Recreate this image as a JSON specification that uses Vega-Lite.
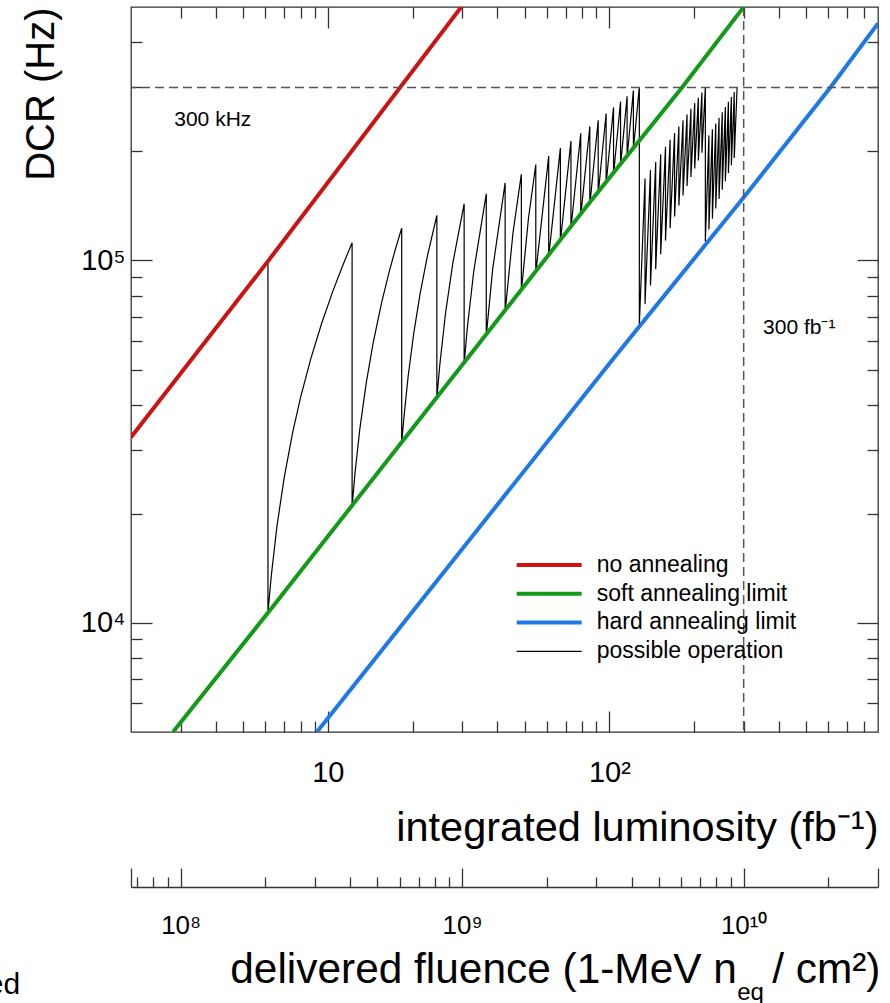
{
  "$schema": "https://vega.github.io/schema/vega-lite/v6.json",
  "width": 747,
  "height": 725,
  "autosize": {"type": "none"},
  "padding": {"left": 131, "top": 7, "right": 12, "bottom": 271},
  "background": "white",
  "config": {
    "font": "Liberation Sans",
    "view": {"stroke": "#333", "strokeWidth": 1.3},
    "axis": {"domain": false, "grid": false, "tickColor": "#333", "tickWidth": 1.3, "labelColor": "#000", "titleColor": "#000", "labelFont": "Liberation Sans", "titleFont": "Liberation Sans", "titleFontWeight": "normal", "labelOverlap": false, "labelFlush": false}
  },
  "datasets": {
    "lines": [
      {"s": "possible operation", "i": 0, "L": 2, "D": 32500},
      {"s": "possible operation", "i": 1, "L": 6.13, "D": 100000},
      {"s": "possible operation", "i": 2, "L": 6.13, "D": 10664},
      {"s": "possible operation", "i": 3, "L": 6.3, "D": 13500},
      {"s": "possible operation", "i": 4, "L": 6.6, "D": 18500},
      {"s": "possible operation", "i": 5, "L": 7, "D": 25170},
      {"s": "possible operation", "i": 6, "L": 7.5, "D": 33500},
      {"s": "possible operation", "i": 7, "L": 8, "D": 41840},
      {"s": "possible operation", "i": 8, "L": 8.7, "D": 53510},
      {"s": "possible operation", "i": 9, "L": 9.5, "D": 66840},
      {"s": "possible operation", "i": 10, "L": 10.4, "D": 81850},
      {"s": "possible operation", "i": 11, "L": 11.3, "D": 96850},
      {"s": "possible operation", "i": 12, "L": 12.2, "D": 111850},
      {"s": "possible operation", "i": 13, "L": 12.2, "D": 21005},
      {"s": "possible operation", "i": 14, "L": 12.5, "D": 26010},
      {"s": "possible operation", "i": 15, "L": 13, "D": 34340},
      {"s": "possible operation", "i": 16, "L": 13.7, "D": 46010},
      {"s": "possible operation", "i": 17, "L": 14.5, "D": 59350},
      {"s": "possible operation", "i": 18, "L": 15.5, "D": 76020},
      {"s": "possible operation", "i": 19, "L": 16.5, "D": 92690},
      {"s": "possible operation", "i": 20, "L": 17.4, "D": 107690},
      {"s": "possible operation", "i": 21, "L": 18.3, "D": 122690},
      {"s": "possible operation", "i": 22, "L": 18.3, "D": 31320},
      {"s": "possible operation", "i": 23, "L": 18.6, "D": 36320},
      {"s": "possible operation", "i": 24, "L": 19.3, "D": 47990},
      {"s": "possible operation", "i": 25, "L": 20.2, "D": 62990},
      {"s": "possible operation", "i": 26, "L": 21.3, "D": 81330},
      {"s": "possible operation", "i": 27, "L": 22.6, "D": 103000},
      {"s": "possible operation", "i": 28, "L": 24.4, "D": 133000},
      {"s": "possible operation", "i": 29, "L": 24.4, "D": 41580},
      {"s": "possible operation", "i": 30, "L": 25, "D": 51580},
      {"s": "possible operation", "i": 31, "L": 26.2, "D": 71580},
      {"s": "possible operation", "i": 32, "L": 27.8, "D": 98250},
      {"s": "possible operation", "i": 33, "L": 30.5, "D": 143260},
      {"s": "possible operation", "i": 34, "L": 30.5, "D": 51800},
      {"s": "possible operation", "i": 35, "L": 31.3, "D": 65130},
      {"s": "possible operation", "i": 36, "L": 33, "D": 93470},
      {"s": "possible operation", "i": 37, "L": 36.55, "D": 152650},
      {"s": "possible operation", "i": 38, "L": 36.55, "D": 61900},
      {"s": "possible operation", "i": 39, "L": 38.5, "D": 94410},
      {"s": "possible operation", "i": 40, "L": 42.65, "D": 163590},
      {"s": "possible operation", "i": 41, "L": 42.65, "D": 72060},
      {"s": "possible operation", "i": 42, "L": 45.5, "D": 119570},
      {"s": "possible operation", "i": 43, "L": 48.7, "D": 172920},
      {"s": "possible operation", "i": 44, "L": 48.7, "D": 82120},
      {"s": "possible operation", "i": 45, "L": 51.6, "D": 130460},
      {"s": "possible operation", "i": 46, "L": 54.8, "D": 183810},
      {"s": "possible operation", "i": 47, "L": 54.8, "D": 92240},
      {"s": "possible operation", "i": 48, "L": 60.9, "D": 193930},
      {"s": "possible operation", "i": 49, "L": 60.9, "D": 102350},
      {"s": "possible operation", "i": 50, "L": 67, "D": 204040},
      {"s": "possible operation", "i": 51, "L": 67, "D": 112450},
      {"s": "possible operation", "i": 52, "L": 73.05, "D": 213310},
      {"s": "possible operation", "i": 53, "L": 73.05, "D": 122450},
      {"s": "possible operation", "i": 54, "L": 79.15, "D": 224130},
      {"s": "possible operation", "i": 55, "L": 79.15, "D": 132500},
      {"s": "possible operation", "i": 56, "L": 85.25, "D": 234180},
      {"s": "possible operation", "i": 57, "L": 85.25, "D": 142540},
      {"s": "possible operation", "i": 58, "L": 91.3, "D": 243400},
      {"s": "possible operation", "i": 59, "L": 91.3, "D": 152510},
      {"s": "possible operation", "i": 60, "L": 97.4, "D": 254200},
      {"s": "possible operation", "i": 61, "L": 97.4, "D": 162550},
      {"s": "possible operation", "i": 62, "L": 103.5, "D": 264230},
      {"s": "possible operation", "i": 63, "L": 103.5, "D": 172570},
      {"s": "possible operation", "i": 64, "L": 109.6, "D": 274260},
      {"s": "possible operation", "i": 65, "L": 109.6, "D": 182580},
      {"s": "possible operation", "i": 66, "L": 115.65, "D": 283430},
      {"s": "possible operation", "i": 67, "L": 115.65, "D": 192500},
      {"s": "possible operation", "i": 68, "L": 121.75, "D": 294180},
      {"s": "possible operation", "i": 69, "L": 121.75, "D": 202530},
      {"s": "possible operation", "i": 70, "L": 127.8, "D": 300500},
      {"s": "possible operation", "i": 71, "L": 127.8, "D": 66400},
      {"s": "possible operation", "i": 72, "L": 133.9, "D": 168100},
      {"s": "possible operation", "i": 73, "L": 133.9, "D": 75800},
      {"s": "possible operation", "i": 74, "L": 140, "D": 177500},
      {"s": "possible operation", "i": 75, "L": 140, "D": 85200},
      {"s": "possible operation", "i": 76, "L": 146.1, "D": 186900},
      {"s": "possible operation", "i": 77, "L": 146.1, "D": 94600},
      {"s": "possible operation", "i": 78, "L": 152.2, "D": 196300},
      {"s": "possible operation", "i": 79, "L": 152.2, "D": 104000},
      {"s": "possible operation", "i": 80, "L": 158.3, "D": 205700},
      {"s": "possible operation", "i": 81, "L": 158.3, "D": 113400},
      {"s": "possible operation", "i": 82, "L": 164.4, "D": 215100},
      {"s": "possible operation", "i": 83, "L": 164.4, "D": 122800},
      {"s": "possible operation", "i": 84, "L": 170.5, "D": 224500},
      {"s": "possible operation", "i": 85, "L": 170.5, "D": 132200},
      {"s": "possible operation", "i": 86, "L": 176.6, "D": 233900},
      {"s": "possible operation", "i": 87, "L": 176.6, "D": 141600},
      {"s": "possible operation", "i": 88, "L": 182.7, "D": 243300},
      {"s": "possible operation", "i": 89, "L": 182.7, "D": 151000},
      {"s": "possible operation", "i": 90, "L": 188.8, "D": 252700},
      {"s": "possible operation", "i": 91, "L": 188.8, "D": 160400},
      {"s": "possible operation", "i": 92, "L": 194.9, "D": 262100},
      {"s": "possible operation", "i": 93, "L": 194.9, "D": 169800},
      {"s": "possible operation", "i": 94, "L": 201, "D": 271500},
      {"s": "possible operation", "i": 95, "L": 201, "D": 179200},
      {"s": "possible operation", "i": 96, "L": 207.1, "D": 280900},
      {"s": "possible operation", "i": 97, "L": 207.1, "D": 188600},
      {"s": "possible operation", "i": 98, "L": 213.2, "D": 290300},
      {"s": "possible operation", "i": 99, "L": 213.2, "D": 198000},
      {"s": "possible operation", "i": 100, "L": 219.3, "D": 299700},
      {"s": "possible operation", "i": 101, "L": 219.3, "D": 112800},
      {"s": "possible operation", "i": 102, "L": 225.8, "D": 221200},
      {"s": "possible operation", "i": 103, "L": 225.8, "D": 121600},
      {"s": "possible operation", "i": 104, "L": 232.3, "D": 230000},
      {"s": "possible operation", "i": 105, "L": 232.3, "D": 130300},
      {"s": "possible operation", "i": 106, "L": 238.8, "D": 238700},
      {"s": "possible operation", "i": 107, "L": 238.8, "D": 139100},
      {"s": "possible operation", "i": 108, "L": 245.3, "D": 247500},
      {"s": "possible operation", "i": 109, "L": 245.3, "D": 147800},
      {"s": "possible operation", "i": 110, "L": 251.8, "D": 256200},
      {"s": "possible operation", "i": 111, "L": 251.8, "D": 156600},
      {"s": "possible operation", "i": 112, "L": 258.3, "D": 265000},
      {"s": "possible operation", "i": 113, "L": 258.3, "D": 165400},
      {"s": "possible operation", "i": 114, "L": 264.8, "D": 273800},
      {"s": "possible operation", "i": 115, "L": 264.8, "D": 174100},
      {"s": "possible operation", "i": 116, "L": 271.3, "D": 282500},
      {"s": "possible operation", "i": 117, "L": 271.3, "D": 182900},
      {"s": "possible operation", "i": 118, "L": 277.8, "D": 291300},
      {"s": "possible operation", "i": 119, "L": 277.8, "D": 191600},
      {"s": "possible operation", "i": 120, "L": 284.3, "D": 300000},
      {"s": "no annealing", "i": 0, "L": 2, "D": 32500},
      {"s": "no annealing", "i": 1, "L": 6.163, "D": 100000},
      {"s": "no annealing", "i": 2, "L": 29.97, "D": 503000},
      {"s": "soft annealing limit", "i": 0, "L": 2.82, "D": 5000},
      {"s": "soft annealing limit", "i": 1, "L": 6.163, "D": 10720},
      {"s": "soft annealing limit", "i": 2, "L": 86.8, "D": 147200},
      {"s": "soft annealing limit", "i": 3, "L": 181.2, "D": 300000},
      {"s": "soft annealing limit", "i": 4, "L": 301.8, "D": 503000},
      {"s": "hard annealing limit", "i": 0, "L": 9.15, "D": 5000},
      {"s": "hard annealing limit", "i": 1, "L": 103.6, "D": 53700},
      {"s": "hard annealing limit", "i": 2, "L": 301.8, "D": 150000},
      {"s": "hard annealing limit", "i": 3, "L": 609.6, "D": 300000},
      {"s": "hard annealing limit", "i": 4, "L": 900, "D": 450700}
    ],
    "legendKey": [
      {"s": "no annealing", "L": 46.87, "D": 14443},
      {"s": "no annealing", "L": 79.75, "D": 14443},
      {"s": "soft annealing limit", "L": 46.87, "D": 12023},
      {"s": "soft annealing limit", "L": 79.75, "D": 12023},
      {"s": "hard annealing limit", "L": 46.87, "D": 10025},
      {"s": "hard annealing limit", "L": 79.75, "D": 10025}
    ],
    "legendKeyOp": [
      {"s": "possible operation", "L": 46.87, "D": 8341},
      {"s": "possible operation", "L": 79.75, "D": 8341}
    ],
    "legendText": [
      {"s": "no annealing", "L": 90.2, "D": 14443},
      {"s": "soft annealing limit", "L": 90.2, "D": 12023},
      {"s": "hard annealing limit", "L": 90.2, "D": 10025},
      {"s": "possible operation", "L": 90.2, "D": 8341}
    ]
  },
  "layer": [
    {
      "layer": [
        {
          "data": {"name": "lines"},
          "mark": {"type": "line", "clip": true},
          "encoding": {
            "x": {"field": "L", "type": "quantitative", "scale": {"type": "log", "domain": [2, 900], "nice": false},
              "axis": {"orient": "bottom", "values": [10, 100], "tickSize": -21, "labelFontSize": 29, "labelPadding": 47, "labelExpr": "datum.value == 10 ? '10' : '10²'", "title": "integrated luminosity (fb⁻¹)", "titleFontSize": 41.5, "titleX": 747, "titleY": 108, "titleAlign": "right", "titleBaseline": "alphabetic", "titleAngle": 0}},
            "y": {"field": "D", "type": "quantitative", "scale": {"type": "log", "domain": [5000, 500000], "nice": false},
              "axis": {"orient": "left", "values": [10000, 100000], "tickSize": -21, "labelFontSize": 29, "labelPadding": 27, "labelExpr": "datum.value == 10000 ? '10⁴' : '10⁵'", "title": "DCR (Hz)", "titleFontSize": 40, "titleX": -78, "titleY": 0, "titleAngle": -90, "titleAlign": "right", "titleBaseline": "alphabetic"}},
            "order": {"field": "i", "type": "quantitative"},
            "color": {"field": "s", "type": "nominal",
              "scale": {"domain": ["no annealing", "soft annealing limit", "hard annealing limit", "possible operation"], "range": ["#cc1212", "#129a18", "#1e78e6", "#000000"]},
              "legend": null},
            "strokeWidth": {"field": "s", "type": "nominal",
              "scale": {"type": "ordinal", "domain": ["no annealing", "soft annealing limit", "hard annealing limit", "possible operation"], "range": [4, 4, 4, 1.2]},
              "legend": null}
          }
        },
        {
          "data": {"values": [{"D": 300000}]},
          "mark": {"type": "rule", "color": "#555", "strokeWidth": 1.5, "strokeDash": [9, 5]},
          "encoding": {"y": {"field": "D", "type": "quantitative", "scale": {"type": "log"}}}
        },
        {
          "data": {"values": [{"L": 300}]},
          "mark": {"type": "rule", "color": "#555", "strokeWidth": 1.5, "strokeDash": [9, 5]},
          "encoding": {"x": {"field": "L", "type": "quantitative", "scale": {"type": "log"}}}
        },
        {
          "data": {"name": "legendKey"},
          "mark": {"type": "line", "strokeWidth": 4},
          "encoding": {
            "x": {"field": "L", "type": "quantitative", "scale": {"type": "log"}},
            "y": {"field": "D", "type": "quantitative", "scale": {"type": "log"}},
            "detail": {"field": "s"},
            "color": {"field": "s", "type": "nominal", "legend": null}
          }
        },
        {
          "data": {"name": "legendKeyOp"},
          "mark": {"type": "line", "strokeWidth": 1.2, "color": "#000"},
          "encoding": {
            "x": {"field": "L", "type": "quantitative", "scale": {"type": "log"}},
            "y": {"field": "D", "type": "quantitative", "scale": {"type": "log"}}
          }
        },
        {
          "data": {"name": "legendText"},
          "mark": {"type": "text", "align": "left", "baseline": "middle", "fontSize": 23, "color": "#000"},
          "encoding": {
            "x": {"field": "L", "type": "quantitative", "scale": {"type": "log"}},
            "y": {"field": "D", "type": "quantitative", "scale": {"type": "log"}},
            "text": {"field": "s"}
          }
        },
        {
          "data": {"values": [{"t": "300 kHz", "L": 2.849, "D": 234600}, {"t": "300 fb⁻¹", "L": 351.6, "D": 62700}]},
          "mark": {"type": "text", "align": "left", "baseline": "alphabetic", "fontSize": 21, "color": "#000"},
          "encoding": {
            "x": {"field": "L", "type": "quantitative", "scale": {"type": "log"}},
            "y": {"field": "D", "type": "quantitative", "scale": {"type": "log"}},
            "text": {"field": "t"}
          }
        },
        {
          "data": {"values": [{"t": "eq", "L": 317.3, "D": 911}]},
          "mark": {"type": "text", "align": "center", "baseline": "alphabetic", "fontSize": 24, "color": "#000"},
          "encoding": {
            "x": {"field": "L", "type": "quantitative", "scale": {"type": "log"}},
            "y": {"field": "D", "type": "quantitative", "scale": {"type": "log"}},
            "text": {"field": "t"}
          }
        },
        {
          "data": {"values": [{"t": "ed", "L": 0.808, "D": 947}]},
          "mark": {"type": "text", "align": "right", "baseline": "alphabetic", "fontSize": 30, "color": "#000"},
          "encoding": {
            "x": {"field": "L", "type": "quantitative", "scale": {"type": "log"}},
            "y": {"field": "D", "type": "quantitative", "scale": {"type": "log"}},
            "text": {"field": "t"}
          }
        }
      ]
    },
    {
      "data": {"values": [{"v": 2}, {"v": 900}]},
      "mark": {"type": "point", "opacity": 0},
      "encoding": {"x": {"field": "v", "type": "quantitative", "scale": {"type": "log", "domain": [2, 900], "nice": false},
        "axis": {"orient": "bottom", "values": [3, 4, 5, 6, 7, 8, 9, 20, 30, 40, 50, 60, 70, 80, 90, 200, 300, 400, 500, 600, 700, 800], "tickSize": -11, "labels": false, "title": null}}}
    },
    {
      "data": {"values": [{"v": 2}, {"v": 900}]},
      "mark": {"type": "point", "opacity": 0},
      "encoding": {"x": {"field": "v", "type": "quantitative", "scale": {"type": "log", "domain": [2, 900], "nice": false},
        "axis": {"orient": "top", "values": [10, 100], "tickSize": -21, "labels": false, "title": null}}}
    },
    {
      "data": {"values": [{"v": 2}, {"v": 900}]},
      "mark": {"type": "point", "opacity": 0},
      "encoding": {"x": {"field": "v", "type": "quantitative", "scale": {"type": "log", "domain": [2, 900], "nice": false},
        "axis": {"orient": "top", "values": [3, 4, 5, 6, 7, 8, 9, 20, 30, 40, 50, 60, 70, 80, 90, 200, 300, 400, 500, 600, 700, 800], "tickSize": -11, "labels": false, "title": null}}}
    },
    {
      "data": {"values": [{"v": 5000}, {"v": 500000}]},
      "mark": {"type": "point", "opacity": 0},
      "encoding": {"y": {"field": "v", "type": "quantitative", "scale": {"type": "log", "domain": [5000, 500000], "nice": false},
        "axis": {"orient": "left", "values": [6000, 7000, 8000, 9000, 20000, 30000, 40000, 50000, 60000, 70000, 80000, 90000, 200000, 300000, 400000], "tickSize": -11, "labels": false, "title": null}}}
    },
    {
      "data": {"values": [{"v": 5000}, {"v": 500000}]},
      "mark": {"type": "point", "opacity": 0},
      "encoding": {"y": {"field": "v", "type": "quantitative", "scale": {"type": "log", "domain": [5000, 500000], "nice": false},
        "axis": {"orient": "right", "values": [10000, 100000], "tickSize": -21, "labels": false, "title": null}}}
    },
    {
      "data": {"values": [{"v": 5000}, {"v": 500000}]},
      "mark": {"type": "point", "opacity": 0},
      "encoding": {"y": {"field": "v", "type": "quantitative", "scale": {"type": "log", "domain": [5000, 500000], "nice": false},
        "axis": {"orient": "right", "values": [6000, 7000, 8000, 9000, 20000, 30000, 40000, 50000, 60000, 70000, 80000, 90000, 200000, 300000, 400000], "tickSize": -11, "labels": false, "title": null}}}
    },
    {
      "data": {"values": [{"F": 66666667}, {"F": 30000000000}]},
      "mark": {"type": "point", "opacity": 0},
      "encoding": {"x": {"field": "F", "type": "quantitative", "scale": {"type": "log", "domain": [66666667, 30000000000], "nice": false},
        "axis": {"orient": "bottom", "offset": 155, "domain": true, "domainColor": "#333", "domainWidth": 1.3, "values": [66666667, 100000000, 1000000000, 10000000000, 30000000000], "tickSize": -19, "labelFontSize": 26, "labelPadding": 44,
          "labelExpr": "datum.value == 100000000 ? '10⁸' : datum.value == 1000000000 ? '10⁹' : datum.value == 10000000000 ? '10¹⁰' : ''",
          "title": "delivered fluence (1-MeV n\u00a0\u00a0\u00a0/ cm²)", "titleFontSize": 42.4, "titleX": 749, "titleY": 95, "titleAlign": "right", "titleBaseline": "alphabetic", "titleAngle": 0}}}
    },
    {
      "data": {"values": [{"F": 66666667}, {"F": 30000000000}]},
      "mark": {"type": "point", "opacity": 0},
      "encoding": {"x": {"field": "F", "type": "quantitative", "scale": {"type": "log", "domain": [66666667, 30000000000], "nice": false},
        "axis": {"orient": "bottom", "offset": 155, "values": [70000000, 80000000, 90000000, 200000000, 300000000, 400000000, 500000000, 600000000, 700000000, 800000000, 900000000, 2000000000, 3000000000, 4000000000, 5000000000, 6000000000, 7000000000, 8000000000, 9000000000, 20000000000], "tickSize": -10, "labels": false, "title": null}}}
    }
  ],
  "resolve": {"scale": {"x": "independent", "y": "independent"}, "axis": {"x": "independent", "y": "independent"}}
}
